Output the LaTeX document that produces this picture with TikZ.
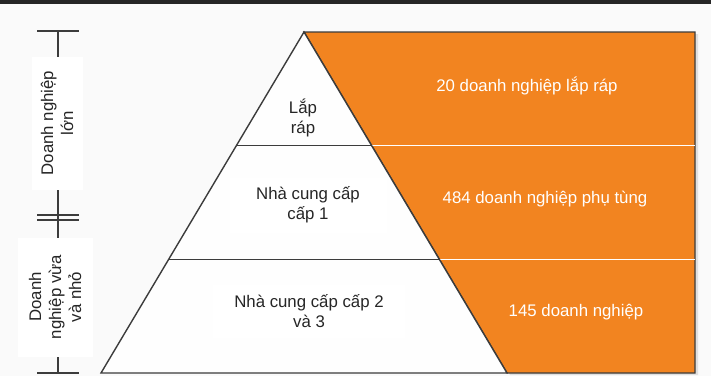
\documentclass[tikz,border=0pt]{standalone}
\usepackage{fontspec}
\setmainfont{Liberation Sans}
\usetikzlibrary{positioning, calc}
\definecolor{cam}{HTML}{F28420}
\definecolor{vien}{HTML}{3C3C3C}
\definecolor{nen}{HTML}{FAFAFA}

\begin{document}
\begin{tikzpicture}[x=1pt, y=-1pt,
    nhan/.style={align=center, font=\fontsize{16.8}{20}\selectfont, text=black!85},
    hop/.style={nhan, fill=white, inner sep=0pt},
    duong/.style={draw=vien, line width=1.4pt}]

    \fill[nen] (0,0) rectangle (711,376);
    \useasboundingbox (0,0) rectangle (711,376);
    \fill[black!85] (0,0) rectangle (711,3.5);

    \coordinate (dinh) at (304,32);
    \coordinate (traiday) at (101,373);
    \coordinate (phaiday) at (507,373);
    \coordinate (goctren) at (695,32);
    \coordinate (gocduoi) at (695,373);
    \coordinate (t1) at ($(dinh)!1/3!(traiday)$);
    \coordinate (p1) at ($(dinh)!1/3!(phaiday)$);
    \coordinate (t2) at ($(dinh)!2/3!(traiday)$);
    \coordinate (p2) at ($(dinh)!2/3!(phaiday)$);

    % vung cam
    \fill[black!12] ([shift={(3,2)}]dinh) -- ([shift={(3,2)}]goctren) -- ([shift={(3,2)}]gocduoi) -- ([shift={(3,2)}]phaiday) -- cycle;
    \draw[duong, fill=cam] (dinh) -- (goctren) -- (gocduoi) -- (phaiday) -- cycle;
    \draw[white, line width=1.2pt] (p1) -- (p1 -| goctren);
    \draw[white, line width=1.2pt] (p2) -- (p2 -| goctren);

    % kim tu thap
    \draw[duong, fill=white!70!nen] (dinh) -- (traiday) -- (phaiday) -- cycle;
    \draw[duong] (t1) -- (p1);
    \draw[duong] (t2) -- (p2);

    \node[nhan] (laprap) at (303,118) {Lắp\\ráp};
    \node[hop, minimum width=157pt, minimum height=55pt] (cap1) at (308,205) {Nhà cung cấp\\cấp 1};
    \node[hop, minimum width=192pt, minimum height=53pt] (cap23) at (309,311) {Nhà cung cấp cấp 2\\và 3};

    \node[nhan, text=white] (sl1) at (527,86) {20 doanh nghiệp lắp ráp};
    \node[nhan, text=white] (sl2) at (545,199) {484 doanh nghiệp phụ tùng};
    \node[nhan, text=white] (sl3) at (576,312) {145 doanh nghiệp};

    % truc trai
    \coordinate (moctren) at (58,31);
    \coordinate (mocgiua) at (58,215);
    \coordinate (mocduoi) at (58,373);
    \draw[duong, line width=1.2pt] (moctren) -- (mocduoi);
    \draw[duong, line width=1.2pt] ([xshift=-21pt]moctren) -- ([xshift=21pt]moctren);
    \draw[duong, line width=1.2pt] ([xshift=-21pt]mocgiua) -- ([xshift=21pt]mocgiua);
    \draw[duong, line width=1.2pt] ([shift={(-21,5)}]mocgiua) -- ([shift={(21,5)}]mocgiua);
    \draw[duong, line width=1.2pt] ([xshift=-21pt]mocduoi) -- ([xshift=21pt]mocduoi);

    \node[hop, rotate=90, minimum width=133pt, minimum height=51pt] (lon) at (57,123) {Doanh nghiệp\\lớn};
    \node[hop, rotate=90, minimum width=119pt, minimum height=75pt] (vuanho) at (55,297) {Doanh\\nghiệp vừa\\và nhỏ};

\end{tikzpicture}
\end{document}
